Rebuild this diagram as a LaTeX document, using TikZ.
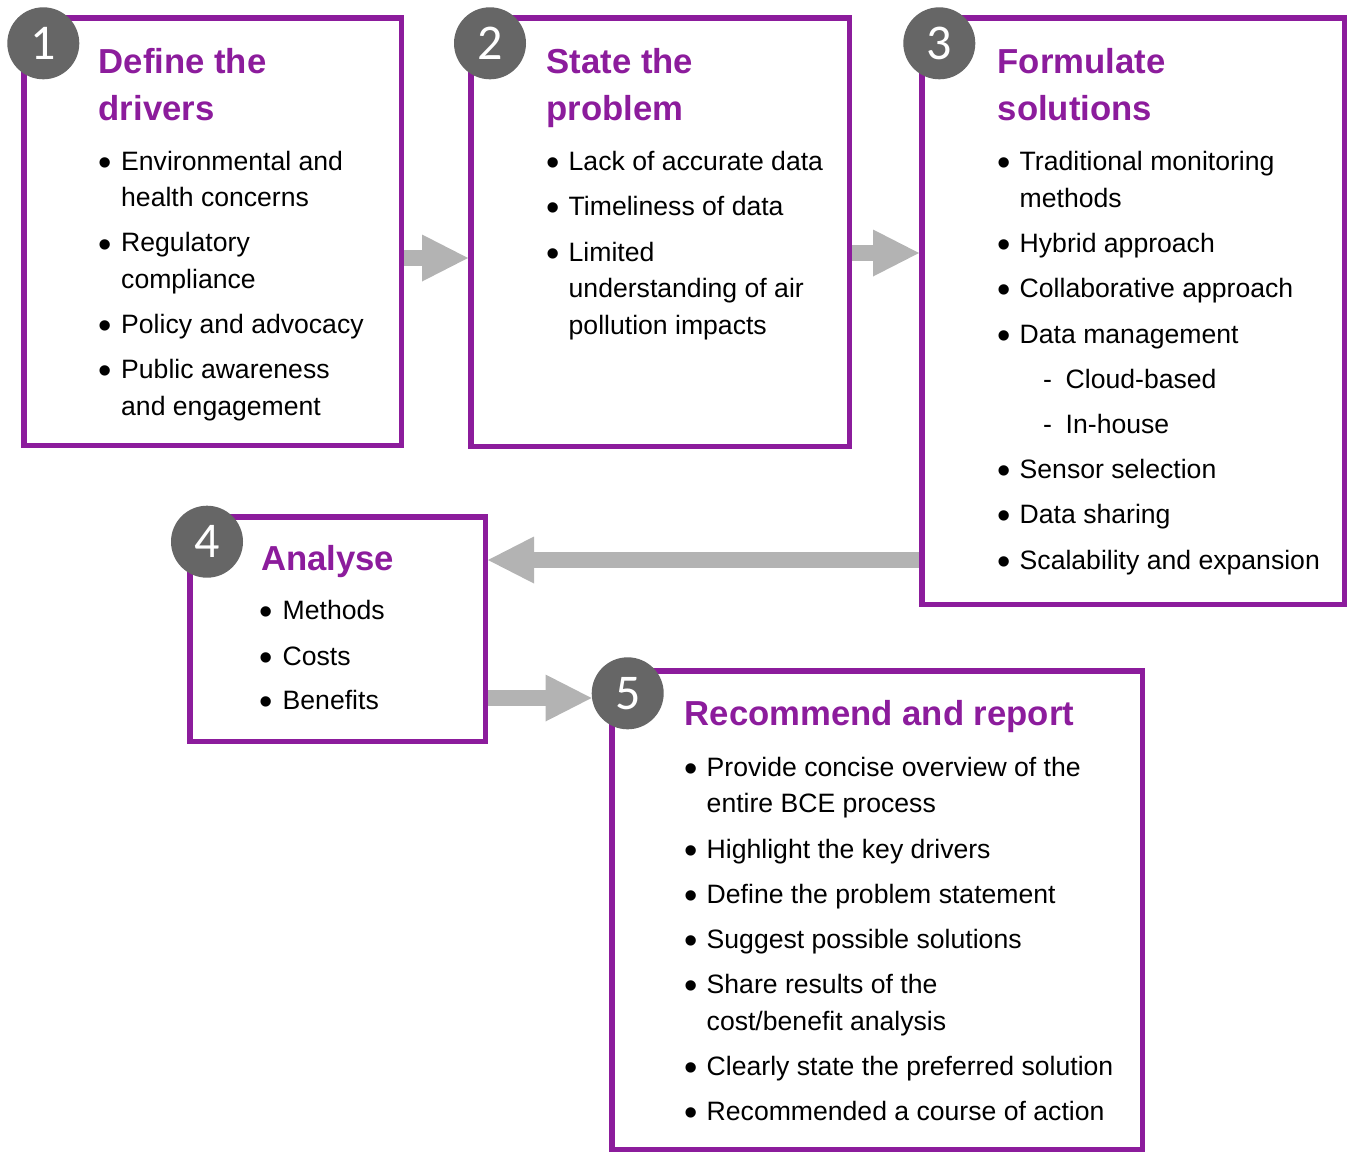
\documentclass[tikz,border=0pt]{standalone}
\usepackage{fontspec}
\setmainfont{Liberation Sans}
\newfontfamily\numfont{Carlito}
\usetikzlibrary{arrows.meta}
\definecolor{purp}{RGB}{140,28,156}
\definecolor{agray}{RGB}{179,179,179}
\definecolor{cgray}{RGB}{102,102,102}
\newcommand\bp[3]{\node[bul] (#1) at (#2,#3+5.6) {•};}
\begin{document}
\begin{tikzpicture}[x=1pt,y=-1pt,
 box/.style={draw=purp,line width=5.5pt,anchor=north west,inner sep=0pt,outer sep=2.75pt},
 num/.style={circle,fill=cgray,minimum size=72pt,inner sep=0pt,text=white,font=\numfont\fontsize{50}{50}\selectfont},
 ttl/.style={anchor=base west,inner sep=0pt,text=purp,font=\fontsize{34.7}{40}\selectfont\bfseries},
 txt/.style={anchor=base west,inner sep=0pt,font=\fontsize{26.6}{30}\selectfont},
 bul/.style={anchor=base,inner sep=0pt,font=\fontsize{38}{38}\selectfont},
 flow/.style={draw=agray,line width=15.5pt,-{Triangle[length=46pt,width=47pt,line width=0pt]}}]
\useasboundingbox (0,0) rectangle (1348,1151);

% boxes
\node[box,minimum width=377.5pt,minimum height=427.5pt] (b1) at (21,15) {};
\node[box,minimum width=378.5pt,minimum height=428.5pt] (b2) at (468,15) {};
\node[box,minimum width=422.5pt,minimum height=586.5pt] (b3) at (919,15) {};
\node[box,minimum width=295.5pt,minimum height=224.5pt] (b4) at (187,514) {};
\node[box,minimum width=530.5pt,minimum height=478.5pt] (b5) at (609,668) {};

% number circles
\node[num] (c1) at (43.3,43.3) {1};
\node[num] (c2) at (490,43.3) {2};
\node[num] (c3) at (939.3,43.3) {3};
\node[num] (c4) at (207,541.7) {4};
\node[num] (c5) at (627.7,693.3) {5};

% arrows
\draw[flow] (b1.east |- 0,258) -- (b2.west |- 0,258);
\draw[flow] (b2.east |- 0,253) -- (b3.west |- 0,253);
\draw[flow] (b3.west |- 0,560) -- (b4.east |- 0,560);
\draw[flow] (b4.east |- 0,698) -- (c5.west |- 0,698);

% box 1
\node[ttl] (t1a) at (98.5,73) {Define the};
\node[ttl] (t1b) at (98.5,120) {drivers};
\bp{p11}{105}{170}\bp{p12}{105}{251.7}\bp{p13}{105}{333}\bp{p14}{105}{378}
\node[txt] (l11) at (121,170) {Environmental and};
\node[txt] (l12) at (121,206.7) {health concerns};
\node[txt] (l13) at (121,251.7) {Regulatory};
\node[txt] (l14) at (121,288) {compliance};
\node[txt] (l15) at (121,333) {Policy and advocacy};
\node[txt] (l16) at (121,378) {Public awareness};
\node[txt] (l17) at (121,415) {and engagement};

% box 2
\node[ttl] (t2a) at (546.5,73) {State the};
\node[ttl] (t2b) at (546.5,120) {problem};
\bp{p21}{553}{170}\bp{p22}{553}{215}\bp{p23}{553}{261}
\node[txt] (l21) at (568.5,170) {Lack of accurate data};
\node[txt] (l22) at (568.5,215) {Timeliness of data};
\node[txt] (l23) at (568.5,261) {Limited};
\node[txt] (l24) at (568.5,297) {understanding of air};
\node[txt] (l25) at (568.5,334) {pollution impacts};

% box 3
\node[ttl] (t3a) at (997.5,73) {Formulate};
\node[ttl] (t3b) at (997.5,120) {solutions};
\bp{p31}{1004}{170}\bp{p32}{1004}{252}\bp{p33}{1004}{297}\bp{p34}{1004}{343}
\bp{p35}{1004}{478}\bp{p36}{1004}{523}\bp{p37}{1004}{569}
\node[txt] (l31) at (1019.5,170) {Traditional monitoring};
\node[txt] (l32) at (1019.5,207) {methods};
\node[txt] (l33) at (1019.5,252) {Hybrid approach};
\node[txt] (l34) at (1019.5,297) {Collaborative approach};
\node[txt] (l35) at (1019.5,343) {Data management};
\node[txt] (d31) at (1043,388) {-};
\node[txt] (l36) at (1065.5,388) {Cloud-based};
\node[txt] (d32) at (1043,433) {-};
\node[txt] (l37) at (1065.5,433) {In-house};
\node[txt] (l38) at (1019.5,478) {Sensor selection};
\node[txt] (l39) at (1019.5,523) {Data sharing};
\node[txt] (l310) at (1019.5,569) {Scalability and expansion};

% box 4
\node[ttl] (t4) at (261,570.7) {Analyse};
\bp{p41}{266.5}{619.3}\bp{p42}{266.5}{665}\bp{p43}{266.5}{709}
\node[txt] (l41) at (282.5,619.3) {Methods};
\node[txt] (l42) at (282.5,665) {Costs};
\node[txt] (l43) at (282.5,709) {Benefits};

% box 5
\node[ttl] (t5) at (684.5,725.5) {Recommend and report};
\bp{p51}{691}{776}\bp{p52}{691}{858}\bp{p53}{691}{903}\bp{p54}{691}{948}
\bp{p55}{691}{993}\bp{p56}{691}{1075}\bp{p57}{691}{1120}
\node[txt] (l51) at (706.5,776) {Provide concise overview of the};
\node[txt] (l52) at (706.5,812) {entire BCE process};
\node[txt] (l53) at (706.5,858) {Highlight the key drivers};
\node[txt] (l54) at (706.5,903) {Define the problem statement};
\node[txt] (l55) at (706.5,948) {Suggest possible solutions};
\node[txt] (l56) at (706.5,993) {Share results of the};
\node[txt] (l57) at (706.5,1030) {cost/benefit analysis};
\node[txt] (l58) at (706.5,1075) {Clearly state the preferred solution};
\node[txt] (l59) at (706.5,1120) {Recommended a course of action};
\end{tikzpicture}
\end{document}
